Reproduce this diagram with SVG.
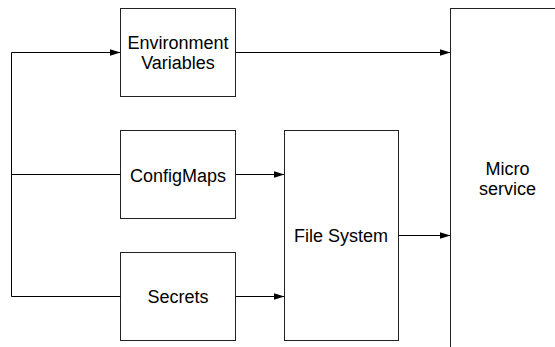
<svg xmlns="http://www.w3.org/2000/svg" width="555" height="347" viewBox="0 0 555 347">
<style>
.box{fill:#fff;stroke:#222;stroke-width:1}
.lbl{font-family:"Liberation Sans",Arial,sans-serif;font-size:18px;fill:#000;text-anchor:middle}
.con{fill:none;stroke:#000;stroke-width:1}
</style>
<defs>
<marker id="ah" markerUnits="userSpaceOnUse" markerWidth="11" markerHeight="8" refX="11" refY="3.5" orient="auto">
<path d="M0,0 L11,3.5 L0,7 z" fill="#000"/>
</marker>
</defs>
<rect width="555" height="347" fill="#fff"/>
<g id="micro">
<rect class="box" x="450.5" y="8.5" width="115" height="350"/>
<text class="lbl" x="507.5" y="175">Micro</text>
<text class="lbl" x="507.5" y="195">service</text>
</g>
<g id="env">
<rect class="box" x="120.5" y="8.5" width="115" height="88"/>
<text class="lbl" x="178" y="49">Environment</text>
<text class="lbl" x="178" y="69">Variables</text>
</g>
<g id="configmaps">
<rect class="box" x="120.5" y="130.5" width="115" height="88"/>
<text class="lbl" x="178" y="181.5">ConfigMaps</text>
</g>
<g id="secrets">
<rect class="box" x="120.5" y="252.5" width="115" height="88"/>
<text class="lbl" x="178" y="303">Secrets</text>
</g>
<g id="filesystem">
<rect class="box" x="284.5" y="130.5" width="114" height="210"/>
<text class="lbl" x="341" y="242">File System</text>
</g>
<g id="connectors">
<path class="con" d="M11.5,296.5 V52.5 H120.5" marker-end="url(#ah)"/>
<path class="con" d="M11.5,174.5 H120.5"/>
<path class="con" d="M11.5,296.5 H120.5"/>
<path class="con" d="M235.5,52.5 H450.5" marker-end="url(#ah)"/>
<path class="con" d="M235.5,174.5 H284.5" marker-end="url(#ah)"/>
<path class="con" d="M235.5,296.5 H284.5" marker-end="url(#ah)"/>
<path class="con" d="M398.5,235.5 H450.5" marker-end="url(#ah)"/>
</g>
</svg>
